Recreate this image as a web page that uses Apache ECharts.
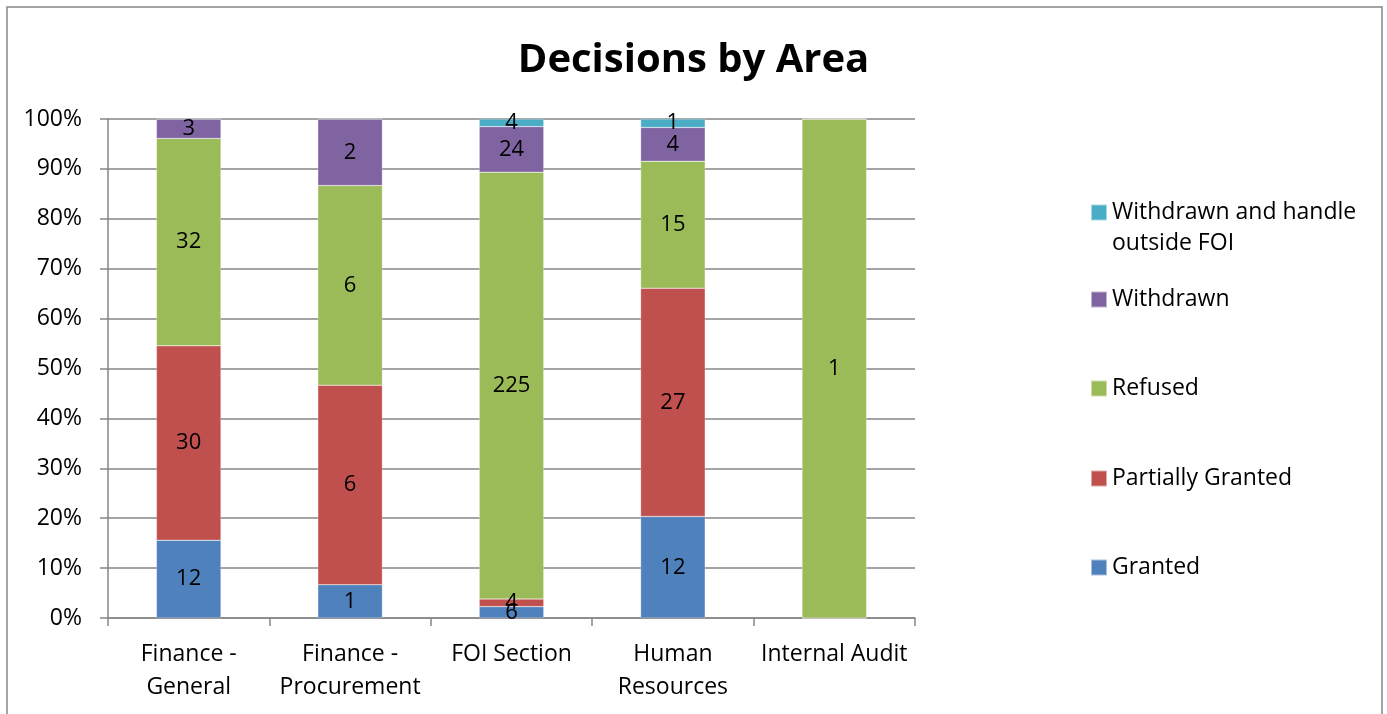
<!DOCTYPE html>
<html>
<head>
<meta charset="utf-8">
<script src="https://cdn.jsdelivr.net/npm/echarts@6/dist/echarts.min.js"></script>
<style>
  html, body { margin: 0; padding: 0; background: #fff; }
  #chart { width: 1387px; height: 714px; }
</style>
</head>
<body>
<div id="chart"></div>
<script>
// areas along the x axis
var areas = ['Finance -\nGeneral', 'Finance -\nProcurement', 'FOI Section', 'Human\nResources', 'Internal Audit'];
// decision counts per area (bottom to top of each stack)
var granted = [12, 1, 6, 12, 0];
var partiallyGranted = [30, 6, 4, 27, 0];
var refused = [32, 6, 225, 15, 1];
var withdrawn = [3, 2, 24, 4, 0];
var withdrawnOutside = [0, 0, 4, 1, 0];
var yTicks = [0, 10, 20, 30, 40, 50, 60, 70, 80, 90, 100];

var names = ['Granted', 'Partially Granted', 'Refused', 'Withdrawn', 'Withdrawn and handle outside FOI'];
var counts = [granted, partiallyGranted, refused, withdrawn, withdrawnOutside];
var colors = ['#4F81BD', '#C0504D', '#9BBB59', '#8064A2', '#4BACC6'];
var font = '"Open Sans", "Noto Sans", sans-serif';

// totals per area -> percentages
var totals = areas.map(function (a, i) {
    var t = 0;
    counts.forEach(function (c) { t += c[i]; });
    return t;
});

var series = names.map(function (n, k) {
    return {
        name: n,
        type: 'bar',
        stack: 'all',
        barWidth: '40%',
        itemStyle: { color: colors[k], borderColor: 'rgba(255,255,255,0.5)', borderWidth: 0.5 },
        label: {
            show: true,
            position: 'inside',
            color: '#000',
            fontFamily: font,
            fontSize: 22,
            formatter: function (p) {
                var v = counts[k][p.dataIndex];
                return v ? String(v) : '';
            }
        },
        data: counts[k].map(function (v, i) { return v / totals[i] * 100; })
    };
});

// legend: one block per item, top to bottom, reversed order
var legendTops = [196, 283, 372, 462, 551];
var legends = names.slice().reverse().map(function (n, i) {
    return {
        data: [n],
        orient: 'vertical',
        left: 1085,
        top: legendTops[i],
        itemWidth: 16,
        itemHeight: 16,
        itemGap: 0,
        icon: 'rect',
        selectedMode: false,
        formatter: function (name) {
            return name === 'Withdrawn and handle outside FOI' ? 'Withdrawn and handle' : name;
        },
        textStyle: { fontFamily: font, fontSize: 23, color: '#000' }
    };
});

var myChart = echarts.init(document.getElementById('chart'));
var option = {
    animation: false,
    backgroundColor: '#fff',
    title: {
        text: 'Decisions by Area',
        left: 'center',
        top: 36,
        textStyle: { fontFamily: font, fontSize: 40, fontWeight: 'bold', color: '#000' }
    },
    legend: legends,
    grid: { left: 108, right: 472, top: 119, bottom: 96, containLabel: false },
    xAxis: {
        type: 'category',
        data: areas,
        axisLine: { lineStyle: { color: '#868686', width: 1.5 } },
        axisTick: { show: true, length: 8, lineStyle: { color: '#868686', width: 1.5 } },
        axisLabel: {
            interval: 0,
            margin: 20,
            fontFamily: font,
            fontSize: 23,
            lineHeight: 33,
            color: '#000'
        }
    },
    yAxis: {
        type: 'value',
        min: 0,
        max: 100,
        interval: 10,
        axisLine: { show: true, lineStyle: { color: '#868686', width: 1.5 } },
        axisTick: { show: true, length: 8, lineStyle: { color: '#868686', width: 1.5 } },
        splitLine: { lineStyle: { color: '#868686', width: 1.5 } },
        axisLabel: {
            margin: 26,
            fontFamily: font,
            fontSize: 23,
            color: '#000',
            formatter: function (v) { return yTicks.indexOf(v) >= 0 ? v + '%' : ''; }
        }
    },
    graphic: [{
        type: 'rect',
        shape: { x: 7, y: 7, width: 1375, height: 720 },
        style: { fill: null, stroke: '#868686', lineWidth: 1.5 },
        silent: true
    }, {
        // second line of the first legend entry
        type: 'text',
        left: 1112,
        top: 232,
        style: { text: 'outside FOI', font: '23px ' + font, fill: '#000' },
        silent: true
    }],
    series: series
};
myChart.setOption(option);
</script>
</body>
</html>
